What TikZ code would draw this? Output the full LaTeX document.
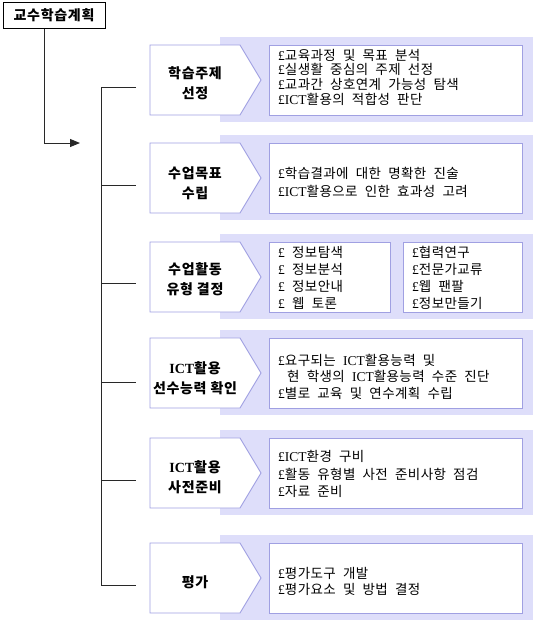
\documentclass[tikz,border=0pt]{standalone}
\usepackage{fontspec}
\setmainfont{Noto Sans CJK KR}[LetterSpace=3, WordSpace=2.1]
\newfontfamily\lbl{Noto Sans CJK KR}[LetterSpace=5]
\newfontfamily\lat{Liberation Serif}
\usetikzlibrary{arrows.meta}
\definecolor{band}{RGB}{222,222,250}
\definecolor{edge}{RGB}{160,160,226}
\definecolor{ink}{RGB}{40,40,40}
\newcommand\pnd{{\lat £}}
\newcommand\ict{{\lat ICT}}

\begin{document}
\begin{tikzpicture}[x=1pt,y=-1pt,
  tree/.style={draw=ink, line width=1pt},
  bandbox/.style={fill=band, draw=none},
  chev/.style={draw=edge, fill=white, line width=0.9pt},
  txtbox/.style={draw=edge, fill=white, line width=0.9pt},
  label/.style={font=\lbl\fontsize{14}{20}\selectfont\bfseries, align=center, inner sep=0},
  items/.style={align=left, anchor=west, inner sep=0},
  topbox/.style={draw=black, line width=1pt, minimum width=102pt, minimum height=26pt,
    inner sep=0, font=\lbl\fontsize{14}{16}\selectfont\bfseries}]
\useasboundingbox (0,0) rectangle (545,624);

% title box and its arrow
\node[topbox] (top) at (54,15) {교수학습계획};
\coordinate (arrowend) at (80,143);
\draw[tree, -{Triangle[length=10pt,width=8pt]}] ([xshift=-10pt]top.south) |- (arrowend);

% stage blocks: band, chevron and item box
\foreach \t in {45,143,242,338,438,543}{
  \fill[bandbox] (220,\t-8) rectangle (533,\t+77);
  \draw[chev] (150,\t) -- (240,\t) -- (261,\t+35) -- (240,\t+70) -- (150,\t+70) -- cycle;
}
\foreach \t in {45,143,338,438,543}{
  \draw[txtbox] (269,\t) rectangle (522,\t+70);
}
\draw[txtbox] (269,242) rectangle (390,312);
\draw[txtbox] (403,242) rectangle (522,312);

% bracket joining the stages
\coordinate (b1) at (136,87);
\coordinate (b2) at (136,185);
\coordinate (b3) at (136,283);
\coordinate (b4) at (136,382);
\coordinate (b5) at (136,480);
\coordinate (b6) at (136,585);
\draw[tree] (b1) -- (101,87) -- (101,585) -- (b6);
\foreach \c/\y in {b2/185,b3/283,b4/382,b5/480}{
  \draw[tree] (101,\y) -- (\c);
}

% stage labels
\node[label] (l1) at (195,83) {학습주제\\선정};
\node[label] (l2) at (195,183) {수업목표\\수립};
\node[label] (l3) at (195,279) {수업활동\\유형 결정};
\node[label] (l4) at (195,378) {{\lat\bfseries ICT}활용\\선수능력 확인};
\node[label] (l5) at (195,477) {{\lat\bfseries ICT}활용\\사전준비};
\node[label] (l6) at (195,582) {평가};

% stage items
\node[items, font=\fontsize{13.5}{14.7}\selectfont] (i1) at (278,77)
  {\pnd 교육과정 및 목표 분석\\\pnd 실생활 중심의 주제 선정\\\pnd 교과간 상호연계 가능성 탐색\\\pnd\ict 활용의 적합성 판단};
\node[items, font=\fontsize{13.5}{18.3}\selectfont] (i2) at (278,182.5)
  {\pnd 학습결과에 대한 명확한 진술\\\pnd\ict 활용으로 인한 효과성 고려};
\node[items, font=\fontsize{13.5}{17}\selectfont] (i3a) at (278,277.5)
  {\pnd\ 정보탐색\\\pnd\ 정보분석\\\pnd\ 정보안내\\\pnd\ 웹 토론};
\node[items, font=\fontsize{13.5}{17}\selectfont] (i3b) at (412,277.5)
  {\pnd 협력연구\\\pnd 전문가교류\\\pnd 웹 팬팔\\\pnd 정보만들기};
\node[items, font=\fontsize{13.5}{16.7}\selectfont] (i4) at (278,376.7)
  {\pnd 요구되는 \ict 활용능력 및\\\hspace*{9pt}현 학생의 \ict 활용능력 수준 진단\\\pnd 별로 교육 및 연수계획 수립};
\node[items, font=\fontsize{13.5}{17.5}\selectfont] (i5) at (278,474)
  {\pnd\ict 환경 구비\\\pnd 활동 유형별 사전 준비사항 점검\\\pnd 자료 준비};
\node[items, font=\fontsize{13.5}{16.7}\selectfont] (i6) at (278,581.5)
  {\pnd 평가도구 개발\\\pnd 평가요소 및 방법 결정};
\end{tikzpicture}
\end{document}
